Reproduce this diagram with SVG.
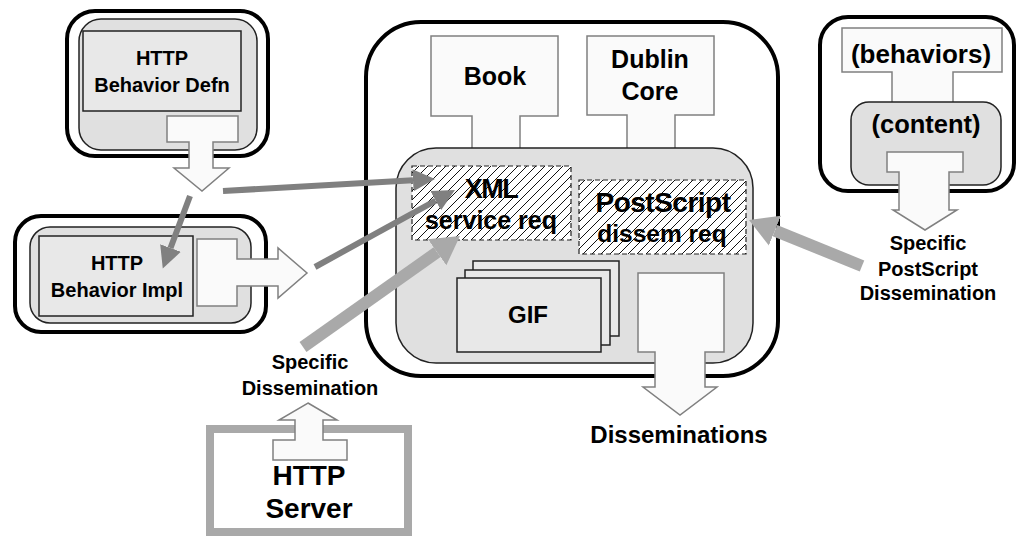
<svg xmlns="http://www.w3.org/2000/svg" width="1018" height="537" viewBox="0 0 1018 537">
  <style>
    text { font-family: "Liberation Sans", Arial, sans-serif; font-weight: bold; fill: #000; text-anchor: middle; }
    .outer { fill: #fff; stroke: #000; stroke-width: 4; }
    .inner { fill: #e0e0e0; stroke: #222; stroke-width: 1.5; }
    .box { fill: #e8e8e8; stroke: #222; stroke-width: 1.5; }
    .blk { fill: #fafafa; stroke: #808080; stroke-width: 1.5; stroke-linejoin: miter; }
    .hatch { fill: url(#diag); stroke: #222; stroke-width: 1.2; stroke-dasharray: 5 3; }
    .thin { fill: none; stroke: #808080; stroke-width: 6; }
    .thick { fill: none; stroke: #a9a9a9; stroke-width: 12; }
  </style>
  <defs>
    <pattern id="diag" patternUnits="userSpaceOnUse" width="9" height="9">
      <rect width="9" height="9" fill="#fff"/>
      <path d="M0,9 L9,0 M-2,2 L2,-2 M7,11 L11,7" stroke="#111" stroke-width="1"/>
    </pattern>
    <marker id="headThin" markerUnits="userSpaceOnUse" markerWidth="24" markerHeight="24" refX="0" refY="12" orient="auto" viewBox="0 0 24 24">
      <path d="M0,1 L22,12 L0,23 Z" fill="#808080"/>
    </marker>
    <marker id="headThick" markerUnits="userSpaceOnUse" markerWidth="30" markerHeight="34" refX="0" refY="17" orient="auto" viewBox="0 0 30 34">
      <path d="M0,1 L28,17 L0,33 Z" fill="#a9a9a9"/>
    </marker>
  </defs>

  <!-- behavior definition object -->
  <g id="behavior-defn">
    <rect class="outer" x="67" y="11" width="201" height="145" rx="28"/>
    <rect class="inner" x="79" y="19" width="178" height="131" rx="22"/>
    <rect class="box" x="83" y="31" width="158" height="80"/>
    <text x="162" y="65" font-size="20">HTTP</text>
    <text x="162" y="92" font-size="20">Behavior Defn</text>
    <polygon class="blk" points="167,116 238,116 238,142 213,142 213,168 229,168 202,191 174,168 189,168 189,142 167,142"/>
  </g>

  <!-- behavior implementation object -->
  <g id="behavior-impl">
    <rect class="outer" x="15" y="216" width="251" height="116" rx="26"/>
    <rect class="inner" x="30" y="227" width="221" height="96" rx="20"/>
    <rect class="box" x="39" y="236" width="154" height="80"/>
    <text x="117" y="270" font-size="20">HTTP</text>
    <text x="117" y="297" font-size="20">Behavior Impl</text>
    <polygon class="blk" points="197,239 237,239 237,259 278,259 278,248 307,273 278,298 278,286 237,286 237,306 197,306"/>
  </g>

  <!-- HTTP server -->
  <g id="http-server">
    <rect x="210" y="429" width="198" height="103" fill="#fff" stroke="#a9a9a9" stroke-width="8"/>
    <polygon class="blk" points="308,403 337,420 323,420 323,440 347,440 347,460 273,460 273,440 295,440 295,420 279,420"/>
    <text x="309" y="485" font-size="28">HTTP</text>
    <text x="309" y="518" font-size="28">Server</text>
  </g>

  <!-- digital object -->
  <g id="digital-object">
    <rect class="outer" x="366" y="22" width="412" height="354" rx="55"/>
    <polygon class="blk" points="431,36 558,36 558,116 520,116 520,149 472,149 472,116 431,116"/>
    <polygon class="blk" points="587,36 714,36 714,115 675,115 675,149 627,149 627,115 587,115"/>
    <text x="495" y="85" font-size="25">Book</text>
    <text x="650" y="68" font-size="25">Dublin</text>
    <text x="650" y="100" font-size="25">Core</text>
    <rect class="inner" x="396" y="148" width="357" height="215" rx="40"/>
    <rect class="hatch" x="412" y="166" width="159" height="74"/>
    <text x="491" y="198" font-size="27" letter-spacing="-1.5">XML</text>
    <text x="491" y="229" font-size="25">service req</text>
    <rect class="hatch" x="579" y="180" width="167" height="74"/>
    <text x="663" y="212" font-size="28" letter-spacing="-0.5">PostScript</text>
    <text x="662" y="242" font-size="24.5">dissem req</text>
    <rect class="box" x="473" y="261" width="146" height="75" fill="#e6e6e6" stroke="#000"/>
    <rect class="box" x="465" y="270" width="145" height="75" fill="#e6e6e6" stroke="#000"/>
    <rect class="box" x="457" y="278" width="144" height="74" fill="#e6e6e6" stroke="#000"/>
    <text x="528" y="323" font-size="24">GIF</text>
    <polygon class="blk" points="638,273 724,273 724,352 705,352 705,387 717,387 680,415 643,387 655,387 655,352 638,352"/>
  </g>

  <!-- generic object -->
  <g id="generic-object">
    <rect class="outer" x="820" y="17" width="194" height="174" rx="28"/>
    <polygon class="blk" points="842,28 1002,28 1002,72 953,72 953,103 892,103 892,72 842,72"/>
    <text x="921" y="63" font-size="26">(behaviors)</text>
    <rect class="inner" x="851" y="102" width="150" height="83" rx="18" fill="#dcdcdc"/>
    <text x="926" y="133" font-size="25.5">(content)</text>
    <polygon class="blk" points="887,152 963,152 963,172 949,172 949,210 957,210 925,230 893,210 899,210 899,172 887,172"/>
  </g>

  <!-- labels -->
  <g id="labels">
    <text x="310" y="369" font-size="20">Specific</text>
    <text x="310" y="395" font-size="20">Dissemination</text>
    <text x="679" y="443" font-size="24">Disseminations</text>
    <text x="928" y="250" font-size="20">Specific</text>
    <text x="928" y="276" font-size="20">PostScript</text>
    <text x="928" y="300" font-size="20">Dissemination</text>
  </g>

  <!-- connectors -->
  <g id="connectors">
    <path class="thin" d="M223,191 L413,180.2" marker-end="url(#headThin)"/>
    <path class="thin" d="M190,196 L170.5,248" marker-end="url(#headThin)"/>
    <path class="thin" d="M315,267 L435.7,200.6" marker-end="url(#headThin)"/>
    <path class="thick" d="M303,347 L437.1,252.2" marker-end="url(#headThick)"/>
    <path class="thick" d="M862,266 L774.9,230.6" marker-end="url(#headThick)"/>
  </g>
</svg>
